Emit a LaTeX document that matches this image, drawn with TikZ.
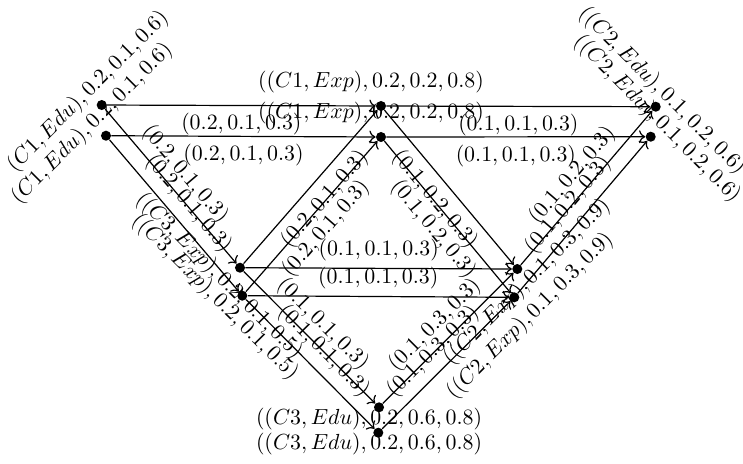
\documentclass[tikz,border=0pt]{standalone}
\usetikzlibrary{arrows.meta}
\begin{document}
\begin{tikzpicture}[x=0.4576pt,y=-0.4576pt,
  dot/.style={circle,fill=black,inner sep=0pt,minimum size=4.6pt},
  lab/.style={inner sep=0pt},
  arr/.style={->,line width=0.55pt}]
\useasboundingbox (0,0) rectangle (743,463);
% copy A
\node[dot] (a1) at (101.7,105) {};
\node[dot] (a2) at (381,106) {};
\node[dot] (a3) at (655.7,106.7) {};
\node[dot] (a4) at (240,267.7) {};
\node[dot] (a5) at (517.3,269) {};
\node[dot] (a6) at (379,407.3) {};
% copy B
\node[dot] (b1) at (106,135.7) {};
\node[dot] (b2) at (381,137) {};
\node[dot] (b3) at (650.7,136.7) {};
\node[dot] (b4) at (242.3,295.7) {};
\node[dot] (b5) at (514.3,297.3) {};
\node[dot] (b6) at (378.3,432.7) {};
% node labels
\node[lab,rotate=45] (la1) at (88,92) {$(C1, Edu), 0.2, 0.1, 0.6)$};
\node[lab,rotate=45] (lb1) at (92,124) {$(C1, Edu), 0.2, 0.1, 0.6)$};
\node[lab] (la2) at (371,82) {$((C1, Exp), 0.2, 0.2, 0.8)$};
\node[lab] (lb2) at (371,113) {$((C1, Exp), 0.2, 0.2, 0.8)$};
\node[lab,rotate=-45] (la3) at (662,91) {$((C2, Edu), 0.1, 0.2, 0.6)$};
\node[lab,rotate=-45] (lb3) at (657,119) {$((C2, Edu), 0.1, 0.2, 0.6)$};
\node[lab,rotate=-45] (la4) at (219,276) {$((C3, Exp), 0.2, 0.1, 0.5)$};
\node[lab,rotate=-45] (lb4) at (215,297) {$((C3, Exp), 0.2, 0.1, 0.5)$};
\node[lab,rotate=45] (la5) at (527,282) {$((C2, Exp), 0.1, 0.3, 0.9)$};
\node[lab,rotate=45] (lb5) at (530,316) {$((C2, Exp), 0.1, 0.3, 0.9)$};
\node[lab] (la6) at (369,419) {$((C3, Edu), 0.2, 0.6, 0.8)$};
\node[lab] (lb6) at (369,444) {$((C3, Edu), 0.2, 0.6, 0.8)$};
% edges
\foreach \c in {a,b}{
\draw[arr] (\c1) -- node[below] {$(0.2, 0.1, 0.3)$} (\c2);
\draw[arr] (\c2) -- node[below] {$(0.1, 0.1, 0.3)$} (\c3);
\draw[arr] (\c1) -- node[above,sloped] {$(0.2, 0.1, 0.3)$} (\c4);
\draw[arr] (\c4) -- node[below,sloped] {$(0.2, 0.1, 0.3)$} (\c2);
\draw[arr] (\c2) -- node[below,sloped] {$(0.1, 0.2, 0.3)$} (\c5);
\draw[arr] (\c4) -- node[above] {$(0.1, 0.1, 0.3)$} (\c5);
\draw[arr] (\c4) -- node[above,sloped] {$(0.1, 0.1, 0.3)$} (\c6);
\draw[arr] (\c6) -- node[above,sloped] {$(0.1, 0.3, 0.3)$} (\c5);
\draw[arr] (\c5) -- node[above,sloped] {$(0.1, 0.2, 0.3)$} (\c3);
}
\end{tikzpicture}
\end{document}
